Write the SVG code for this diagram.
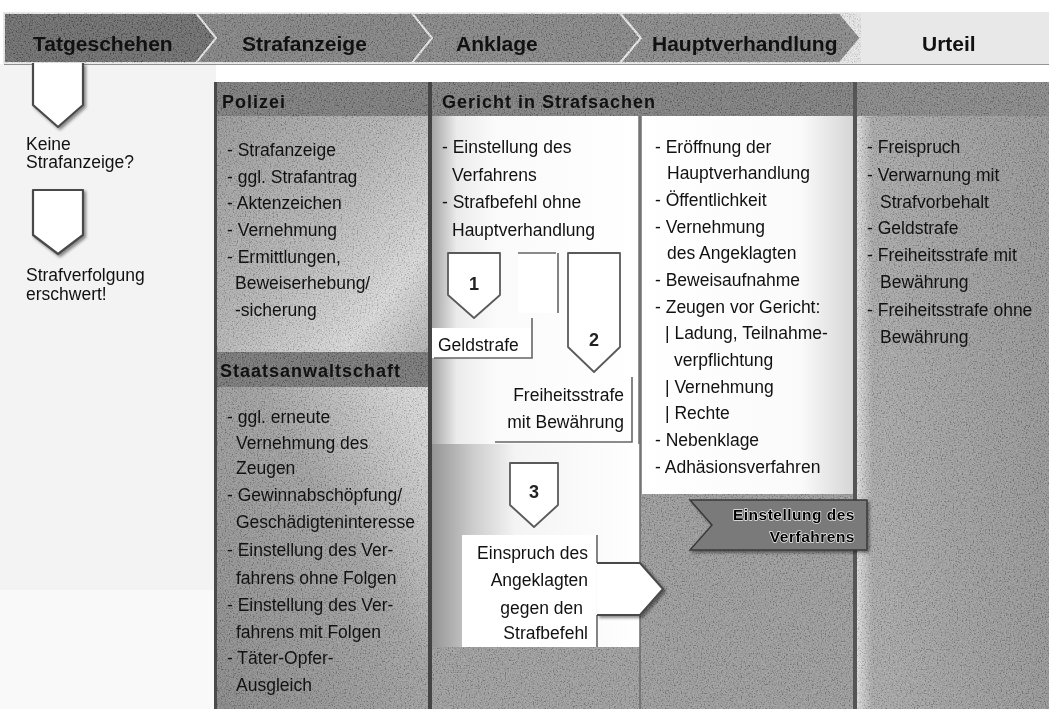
<svg xmlns="http://www.w3.org/2000/svg" width="1049" height="709" viewBox="0 0 1049 709">
<defs>
<style>
.h{font-family:"Liberation Sans",Arial,sans-serif;font-size:21px;font-weight:bold;fill:#111}
.s{font-family:"Liberation Sans",Arial,sans-serif;font-size:18px;font-weight:bold;fill:#111;letter-spacing:1px}
.t{font-family:"Liberation Sans",Arial,sans-serif;font-size:17.5px;fill:#111}
.n{font-family:"Liberation Sans",Arial,sans-serif;font-size:18px;font-weight:bold;fill:#222}
.r{font-family:"Liberation Sans",Arial,sans-serif;font-size:15.5px;font-weight:bold;letter-spacing:.5px}
.halo{fill:#eee;stroke:#eee;stroke-width:1.4px;stroke-linejoin:round}
.ink{fill:#000}
.chev{stroke:#e8e8e8;stroke-width:2}
.pent{fill:#fff;stroke:#4a4a4a;stroke-width:2.2;stroke-linejoin:round}
.pentc{fill:#fff;stroke:#5a5a5a;stroke-width:1.8;stroke-linejoin:round}
.edge{stroke:#666;stroke-width:1.6;fill:none}
</style>
<linearGradient id="gPol" x1="0" y1="0" x2="1" y2="1">
<stop offset="0" stop-color="#8a8a8a"/><stop offset="0.5" stop-color="#b0b0b0"/><stop offset="0.8" stop-color="#d8d8d8"/><stop offset="1" stop-color="#a8a8a8"/>
</linearGradient>
<linearGradient id="gSta" x1="0" y1="1" x2="1" y2="0">
<stop offset="0" stop-color="#7c7c7c"/><stop offset="0.55" stop-color="#999"/><stop offset="0.85" stop-color="#cfcfcf"/><stop offset="1" stop-color="#e2e2e2"/>
</linearGradient>
<linearGradient id="gCourt" x1="0" y1="0" x2="1" y2="0">
<stop offset="0" stop-color="#a5a5a5"/><stop offset="0.12" stop-color="#ebebeb"/><stop offset="0.3" stop-color="#fafafa"/><stop offset="1" stop-color="#fff"/>
</linearGradient>
<linearGradient id="gLow" x1="0" y1="0" x2="1" y2="0">
<stop offset="0" stop-color="#959595"/><stop offset="0.2" stop-color="#cdcdcd"/><stop offset="0.4" stop-color="#f4f4f4"/><stop offset="1" stop-color="#fff"/>
</linearGradient>
<linearGradient id="gHV" x1="0" y1="0" x2="1" y2="0">
<stop offset="0" stop-color="#fff"/><stop offset="0.75" stop-color="#fafafa"/><stop offset="1" stop-color="#d5d5d5"/>
</linearGradient>
<linearGradient id="gUrt" x1="0" y1="0" x2="1" y2="0">
<stop offset="0" stop-color="#dcdcdc"/><stop offset="0.08" stop-color="#a2a2a2"/><stop offset="0.5" stop-color="#979797"/><stop offset="1" stop-color="#8c8c8c"/>
</linearGradient>
<filter id="shadow" x="-10%" y="-10%" width="130%" height="130%">
<feDropShadow dx="2" dy="2" stdDeviation="1.5" flood-color="#000" flood-opacity="0.45"/>
</filter>
<filter id="grain" x="0" y="0" width="100%" height="100%">
<feTurbulence type="fractalNoise" baseFrequency="0.75" numOctaves="2" seed="3"/>
<feColorMatrix type="matrix" values="2.5 0 0 0 -0.7  2.5 0 0 0 -0.7  2.5 0 0 0 -0.7  0 0 0 0 1"/>
</filter>
</defs>

<rect width="1049" height="709" fill="#fff"/>

<!-- backgrounds -->
<g id="backgrounds">
<rect x="0" y="64" width="216" height="645" fill="#f3f3f3"/>
<rect x="0" y="590" width="216" height="119" fill="#f9f9f9"/>
<rect x="4" y="60" width="1045" height="5" fill="#3a3a3a" opacity="0.55"/>
<polygon class="chev" points="4,13 196,13 216,38 196,63 4,63" fill="#5e5e5e"/>
<polygon class="chev" points="196,13 412,13 432,38 412,63 196,63 216,38" fill="#777"/>
<polygon class="chev" points="412,13 620,13 641,38 620,63 412,63 432,38" fill="#7b7b7b"/>
<polygon class="chev" points="620,13 840,13 861,38 840,63 620,63 641,38" fill="#7e7e7e"/>
<polygon class="chev" points="840,13 1049,13 1049,63 840,63 861,38" fill="#e8e8e8"/>
<rect x="216" y="82" width="214" height="270" fill="url(#gPol)"/>
<rect x="216" y="82" width="212" height="34" fill="#6e6e6e"/>
<rect x="216" y="352" width="214" height="357" fill="url(#gSta)"/>
<rect x="216" y="352" width="212" height="35" fill="#6a6a6a"/>
<rect x="432" y="82" width="425" height="34" fill="#727272"/>
<rect x="432" y="116" width="208" height="593" fill="#959595"/>
<rect x="432" y="116" width="206" height="328" fill="url(#gCourt)"/>
<rect x="432" y="444" width="208" height="203" fill="url(#gLow)"/>
<rect x="640" y="116" width="217" height="593" fill="#939393"/>
<rect x="642" y="116" width="212" height="378" fill="url(#gHV)"/>
<rect x="857" y="82" width="192" height="627" fill="url(#gUrt)"/>
<rect x="857" y="82" width="192" height="34" fill="#7c7c7c"/>
</g>

<!-- grain overlay on grey areas -->
<g opacity="0.2">
<rect x="4" y="13" width="857" height="50" filter="url(#grain)"/>
<rect x="216" y="82" width="833" height="34" filter="url(#grain)"/>
<rect x="216" y="116" width="214" height="593" filter="url(#grain)"/>
<rect x="857" y="116" width="192" height="593" filter="url(#grain)"/>
<rect x="640" y="494" width="217" height="215" filter="url(#grain)"/>
<rect x="432" y="647" width="208" height="62" filter="url(#grain)"/>
</g>

<!-- column borders -->
<rect x="214" y="82" width="3" height="627" fill="#4a4a4a"/>
<rect x="428" y="82" width="4" height="627" fill="#444"/>
<rect x="853" y="82" width="4" height="627" fill="#555"/>
<line x1="640" y1="116" x2="640" y2="709" stroke="#6a6a6a" stroke-width="1.5"/>

<!-- header labels -->
<g id="h-tatgeschehen"><text class="h" x="33" y="51">Tatgeschehen</text></g>
<g id="h-strafanzeige"><text class="h" x="242" y="51">Strafanzeige</text></g>
<g id="h-anklage"><text class="h" x="456" y="51">Anklage</text></g>
<g id="h-hauptverhandlung"><text class="h" x="652" y="51">Hauptverhandlung</text></g>
<g id="h-urteil"><text class="h" x="922" y="51">Urteil</text></g>

<!-- Police column -->
<g id="polizei">
<text class="s" x="222" y="108">Polizei</text>
<text class="t" x="227" y="156">- Strafanzeige</text>
<text class="t" x="227" y="183">- ggl. Strafantrag</text>
<text class="t" x="227" y="209">- Aktenzeichen</text>
<text class="t" x="227" y="236">- Vernehmung</text>
<text class="t" x="227" y="263">- Ermittlungen,</text>
<text class="t" x="235" y="289">Beweiserhebung/</text>
<text class="t" x="235" y="316">-sicherung</text>
</g>

<g id="staatsanwaltschaft">
<text class="s" x="220" y="377">Staatsanwaltschaft</text>
<text class="t" x="227" y="423">- ggl. erneute</text>
<text class="t" x="236" y="449">Vernehmung des</text>
<text class="t" x="236" y="474">Zeugen</text>
<text class="t" x="227" y="501">- Gewinnabschöpfung/</text>
<text class="t" x="236" y="528">Geschädigteninteresse</text>
<text class="t" x="227" y="556">- Einstellung des Ver-</text>
<text class="t" x="236" y="584">fahrens ohne Folgen</text>
<text class="t" x="227" y="611">- Einstellung des Ver-</text>
<text class="t" x="236" y="638">fahrens mit Folgen</text>
<text class="t" x="227" y="664">- Täter-Opfer-</text>
<text class="t" x="236" y="691">Ausgleich</text>
</g>

<!-- Court -->
<g id="gericht-header">
<text class="s" x="442" y="108">Gericht in Strafsachen</text>
</g>

<g id="anklage-col">
<text class="t" x="442" y="153">- Einstellung des</text>
<text class="t" x="452" y="181">Verfahrens</text>
<text class="t" x="442" y="208">- Strafbefehl ohne</text>
<text class="t" x="452" y="236">Hauptverhandlung</text>
</g>

<g id="hv-col">
<text class="t" x="655" y="153">- Eröffnung der</text>
<text class="t" x="667" y="179">Hauptverhandlung</text>
<text class="t" x="655" y="206">- Öffentlichkeit</text>
<text class="t" x="655" y="233">- Vernehmung</text>
<text class="t" x="667" y="259">des Angeklagten</text>
<text class="t" x="655" y="286">- Beweisaufnahme</text>
<text class="t" x="655" y="313">- Zeugen vor Gericht:</text>
<text class="t" x="665" y="339">| Ladung, Teilnahme-</text>
<text class="t" x="674" y="366">verpflichtung</text>
<text class="t" x="665" y="393">| Vernehmung</text>
<text class="t" x="665" y="419">| Rechte</text>
<text class="t" x="655" y="446">- Nebenklage</text>
<text class="t" x="655" y="473">- Adhäsionsverfahren</text>
</g>

<g id="urteil-col">
<text class="t" x="867" y="153">- Freispruch</text>
<text class="t" x="867" y="181">- Verwarnung mit</text>
<text class="t" x="880" y="208">Strafvorbehalt</text>
<text class="t" x="867" y="234">- Geldstrafe</text>
<text class="t" x="867" y="261">- Freiheitsstrafe mit</text>
<text class="t" x="880" y="288">Bewährung</text>
<text class="t" x="867" y="316">- Freiheitsstrafe ohne</text>
<text class="t" x="880" y="343">Bewährung</text>
</g>

<!-- Left column nodes -->
<g id="keine-strafanzeige">
<path class="pent" filter="url(#shadow)" d="M33,63 V105 L58,127 L83,105 V63"/>
<text class="t" x="26" y="150">Keine</text>
<text class="t" x="26" y="168">Strafanzeige?</text>
</g>
<g id="strafverfolgung">
<path class="pent" filter="url(#shadow)" d="M33,190 H83 V235 L58,254 L33,235 Z"/>
<text class="t" x="26" y="281">Strafverfolgung</text>
<text class="t" x="26" y="300">erschwert!</text>
</g>

<!-- Court option nodes -->
<g id="opt1">
<rect x="518" y="253" width="40" height="60" fill="#fff"/>
<path class="edge" d="M558,253 V313 M518,253 H556"/>
<path class="pentc" d="M448,253 H500 V295 L474,318 L448,295 Z"/>
<text class="n" x="474" y="290" text-anchor="middle">1</text>
<rect x="432" y="328" width="100" height="30" fill="#fff"/>
<path class="edge" d="M532,318 V358 H434"/>
<text class="t" x="438" y="351">Geldstrafe</text>
</g>
<g id="opt2">
<path class="pentc" d="M568,253 H620 V347 L594,372 L568,347 Z"/>
<text class="n" x="594" y="346" text-anchor="middle">2</text>
<path class="edge" d="M632,377 V442 H495"/>
<text class="t" x="624" y="401" text-anchor="end">Freiheitsstrafe</text>
<text class="t" x="624" y="428" text-anchor="end">mit Bewährung</text>
</g>
<g id="opt3">
<path class="pentc" d="M510,463 H558 V505 L534,527 L510,505 Z"/>
<text class="n" x="534" y="498" text-anchor="middle">3</text>
<rect x="462" y="535" width="135" height="112" fill="#fff"/>
<path class="edge" d="M597,535 V563 M597,615 V647"/>
<text class="t" x="588" y="559" text-anchor="end">Einspruch des</text>
<text class="t" x="588" y="586" text-anchor="end">Angeklagten</text>
<text class="t" x="583" y="614" text-anchor="end">gegen den</text>
<text class="t" x="588" y="639" text-anchor="end">Strafbefehl</text>
</g>

<!-- connectors -->
<g id="connectors">
<path d="M597,563 H640 L663,589 L640,615 H597" fill="#fff" stroke="#4a4a4a" stroke-width="2" stroke-linejoin="round" filter="url(#shadow)"/>
</g>

<!-- Einstellung ribbon -->
<g id="einstellung">
<polygon points="690,500 867,500 867,550 690,550 712,525" fill="#7a7a7a" stroke="#3a3a3a" stroke-width="1.5" filter="url(#shadow)"/>
<text class="r halo" x="855" y="520" text-anchor="end">Einstellung des</text>
<text class="r halo" x="855" y="542" text-anchor="end">Verfahrens</text>
<text class="r ink" x="855" y="520" text-anchor="end">Einstellung des</text>
<text class="r ink" x="855" y="542" text-anchor="end">Verfahrens</text>
</g>
</svg>
